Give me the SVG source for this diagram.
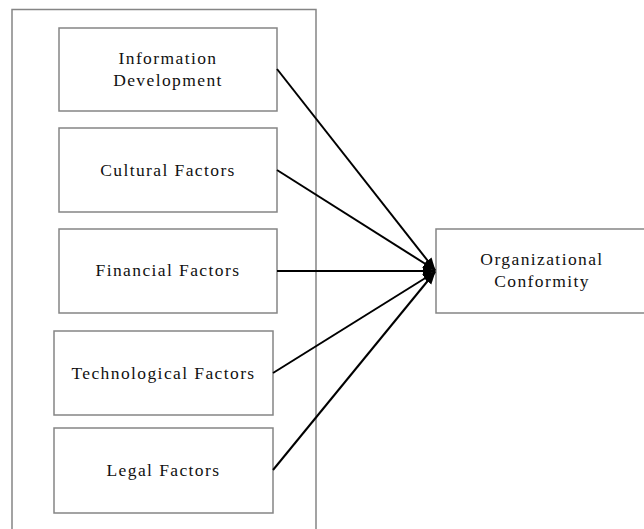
<svg xmlns="http://www.w3.org/2000/svg" width="644" height="529" viewBox="0 0 644 529">
<style>
.box{fill:#fff;stroke:#858585;stroke-width:1.5}
.t{font-family:"Liberation Serif","Times New Roman",serif;font-size:17.5px;letter-spacing:1.4px;fill:#111;text-anchor:middle}
.c{stroke:#000;stroke-width:2;fill:none;marker-end:url(#ah)}
</style>
<defs>
<marker id="ah" markerWidth="14" markerHeight="12" refX="12" refY="6" orient="auto" markerUnits="userSpaceOnUse">
<path d="M0,1 L13,6 L0,11 Z" fill="#000"/>
</marker>
</defs>
<g id="frame"><rect class="box" x="12" y="9.5" width="304" height="530"/></g>
<g id="n1"><rect class="box" x="59" y="28" width="218" height="83"/><text class="t" x="168" y="64">Information</text><text class="t" x="168" y="86">Development</text></g>
<g id="n2"><rect class="box" x="59" y="128" width="218" height="84"/><text class="t" x="168" y="176">Cultural Factors</text></g>
<g id="n3"><rect class="box" x="59" y="229" width="218" height="84"/><text class="t" x="168" y="276">Financial Factors</text></g>
<g id="n4"><rect class="box" x="54" y="331" width="219" height="84"/><text class="t" x="163.5" y="379">Technological Factors</text></g>
<g id="n5"><rect class="box" x="54" y="428" width="219" height="85"/><text class="t" x="163.5" y="476">Legal Factors</text></g>
<g id="target"><rect class="box" x="436" y="229" width="214" height="84"/><text class="t" x="542" y="265">Organizational</text><text class="t" x="542" y="287">Conformity</text></g>
<g id="connectors">
<line class="c" x1="277" y1="69" x2="435" y2="270"/>
<line class="c" x1="277" y1="170" x2="435" y2="270"/>
<line class="c" x1="277" y1="271" x2="435" y2="271"/>
<line class="c" x1="273" y1="373" x2="435" y2="272"/>
<line class="c" x1="273" y1="470" x2="435" y2="272"/>
</g>
</svg>
